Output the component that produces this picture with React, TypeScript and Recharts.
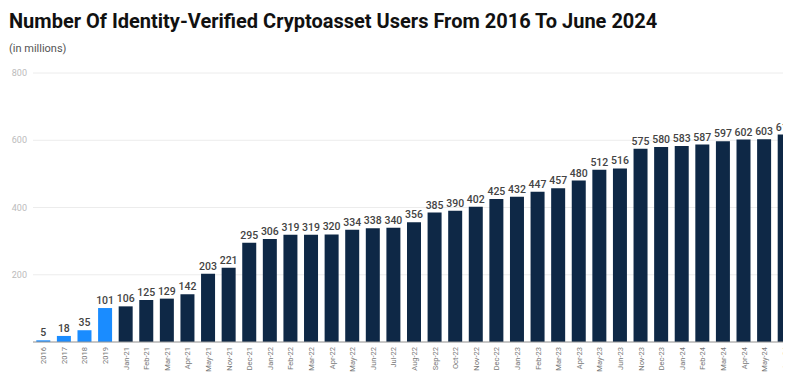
import { BarChart, Bar, XAxis, YAxis, CartesianGrid, Cell, LabelList } from "recharts";

const periods = [
  "2016", "2017", "2018", "2019",
  "Jan-21", "Feb-21", "Mar-21", "Apr-21", "May-21", "Nov-21", "Dec-21",
  "Jan-22", "Feb-22", "Mar-22", "Apr-22", "May-22", "Jun-22", "Jul-22",
  "Aug-22", "Sep-22", "Oct-22", "Nov-22", "Dec-22",
  "Jan-23", "Feb-23", "Mar-23", "Apr-23", "May-23", "Jun-23", "Nov-23", "Dec-23",
  "Jan-24", "Feb-24", "Mar-24", "Apr-24", "May-24", "Jun-24",
];

const users = [
  5, 18, 35, 101,
  106, 125, 129, 142, 203, 221, 295,
  306, 319, 319, 320, 334, 338, 340,
  356, 385, 390, 402, 425,
  432, 447, 457, 480, 512, 516, 575, 580,
  583, 587, 597, 602, 603, 617,
];

const yearly = ["2016", "2017", "2018", "2019"];
const yTicks = [0, 200, 400, 600, 800];

const data = periods.map((period, i) => ({ period, users: users[i] }));

const NAVY = "#0e2846";
const BLUE = "#1a8cff";

// rotated month labels, reading bottom-up, ending just under the axis
const MonthTick = (props: any) => {
  const { x, y, payload } = props;
  return (
    <g transform={`translate(${x},${y})`}>
      <text
        transform="rotate(-90)"
        x={3}
        y={0}
        dy={3}
        textAnchor="end"
        fontSize={7.5}
        fill="#777"
      >
        {payload.value}
      </text>
    </g>
  );
};

export default function App() {
  return (
    <div
      style={{
        position: "relative",
        width: 783,
        height: 366,
        overflow: "hidden",
        fontFamily: "Roboto, sans-serif",
      }}
    >
      <div
        style={{
          position: "absolute",
          left: 1,
          top: 1,
          fontSize: 20,
          fontWeight: 700,
          color: "#111",
          whiteSpace: "nowrap",
        }}
      >
        Number Of Identity-Verified Cryptoasset Users From 2016 To June 2024
      </div>
      <div
        style={{
          position: "absolute",
          left: 1,
          top: 34,
          fontSize: 11,
          color: "#555",
        }}
      >
        (in millions)
      </div>
      <BarChart
        width={787}
        height={366}
        data={data}
        margin={{ top: 65, right: 0, bottom: 0, left: 0 }}
        barCategoryGap="16%"
      >
        <CartesianGrid vertical={false} stroke="#ececec" />
        <YAxis
          width={25}
          domain={[0, 800]}
          ticks={yTicks}
          tickFormatter={(v) => (v === 0 ? "" : String(v))}
          axisLine={false}
          tickLine={false}
          tickMargin={0}
          tick={{ fontSize: 9, fill: "#bbb" }}
        />
        <XAxis
          dataKey="period"
          interval={0}
          height={32}
          tick={<MonthTick />}
          tickLine={false}
          axisLine={{ stroke: "#999" }}
        />
        <Bar dataKey="users" isAnimationActive={false}>
          {data.map((d) => (
            <Cell key={d.period} fill={yearly.includes(d.period) ? BLUE : NAVY} />
          ))}
          <LabelList
            dataKey="users"
            position="top"
            offset={4}
            fontSize={10.5}
            fontWeight={500}
            fill="#444"
          />
        </Bar>
      </BarChart>
    </div>
  );
}
